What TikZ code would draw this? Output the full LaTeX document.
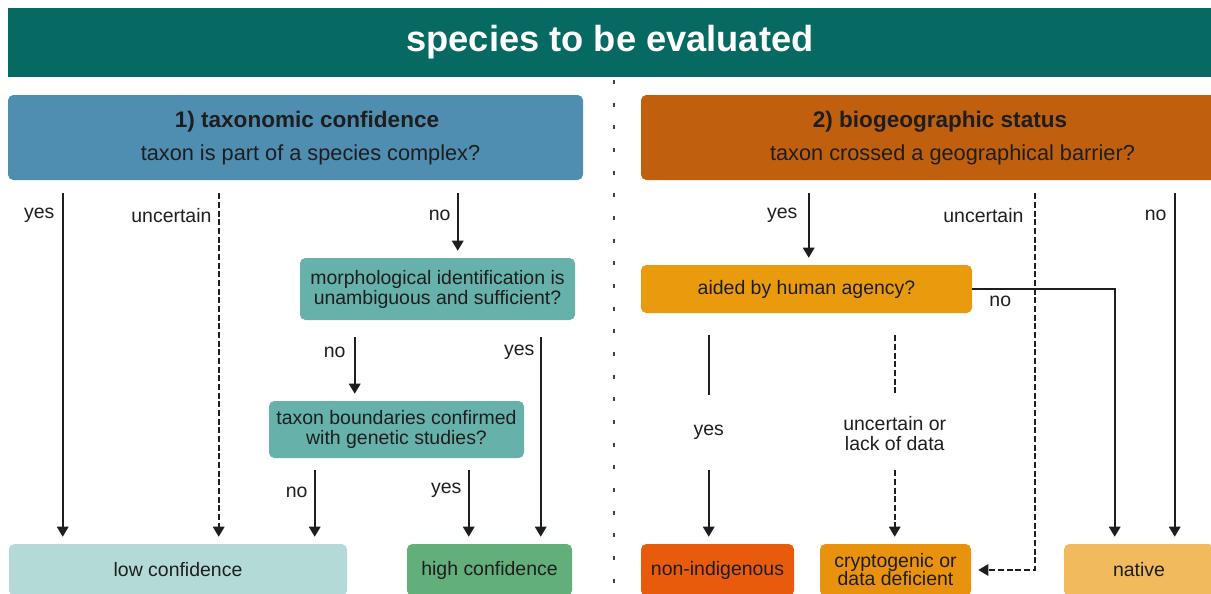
\documentclass[tikz,border=0pt]{standalone}
\usepackage{fontspec}
\setmainfont{Liberation Sans}
\usepackage{xcolor}
\usetikzlibrary{arrows.meta}
\usetikzlibrary{positioning}
\usetikzlibrary{calc}

\definecolor{barteal}{HTML}{066A62}
\definecolor{taxblue}{HTML}{4F8DB1}
\definecolor{biorust}{HTML}{C0600E}
\definecolor{qteal}{HTML}{66B2AA}
\definecolor{qorange}{HTML}{E99A0D}
\definecolor{lowcol}{HTML}{B3DAD7}
\definecolor{highcol}{HTML}{62AF7A}
\definecolor{nonindcol}{HTML}{E95B0C}
\definecolor{cryptcol}{HTML}{E9920D}
\definecolor{nativecol}{HTML}{F1BA5C}
\definecolor{ink}{HTML}{1E1E1E}

\def\u{0.75pt}

\tikzset{
  box/.style={rounded corners=4pt, inner sep=0pt, align=center, text=ink,
    font=\fontsize{14.6}{15}\selectfont},
  lbl/.style={inner sep=0pt, align=center, text=ink,
    font=\fontsize{14.6}{15}\selectfont},
  head/.style={inner sep=0pt, anchor=base, text=ink, font=\bfseries\fontsize{16.9}{18}\selectfont},
  quest/.style={inner sep=0pt, anchor=base, text=ink, font=\fontsize{16.3}{18}\selectfont},
  conn/.style={line width=1.5pt, draw=ink},
  arr/.style={conn, -{Triangle[width=8.5pt,length=7.5pt]}, shorten >=5.25pt},
  dsh/.style={dash pattern=on 4.5pt off 2pt},
  divider/.style={line width=1.5pt, draw=ink!85, dash pattern=on 3pt off 14pt},
}

\begin{document}
\begin{tikzpicture}[x=\u,y=-\u]
	\clip (0,0) rectangle (1211,593);
	% title bar
	\node[fill=barteal, inner sep=0pt, minimum width=1204*\u, minimum height=69*\u,
	      text=white, font=\bfseries\fontsize{27.2}{30}\selectfont] (title) at (610,42.5) {species to be evaluated};
	\draw[divider] (614,80) -- (614,593);

	% 1) taxonomic confidence
	\node[box, fill=taxblue, minimum width=575*\u, minimum height=85*\u] (tax) at (295.5,137.5) {};
	\node[head] (taxhead) at (307,127.5) {1) taxonomic confidence};
	\node[quest] (taxq) at (310.5,160) {taxon is part of a species complex?};
	\node[box, fill=qteal, minimum width=275*\u, minimum height=62*\u] (morph) at (437.5,289)
	  {morphological identification is\\unambiguous and sufficient?};
	\node[box, fill=qteal, minimum width=255*\u, minimum height=57*\u] (bound) at (396.5,429.5)
	  {taxon boundaries confirmed\\with genetic studies?};
	\node[box, fill=lowcol, minimum width=338*\u, minimum height=52*\u] (low) at (178,570) {low confidence};
	\node[box, fill=highcol, minimum width=165*\u, minimum height=52*\u] (high) at (489.5,570) {high confidence};

	\coordinate (tyes) at ([shift={(55,13)}]tax.south west);
	\coordinate (tunc) at ([shift={(211,13)}]tax.south west);
	\coordinate (tno) at ([shift={(450,13)}]tax.south west);
	\draw[arr] (tyes) -- (tyes |- low.north);
	\draw[arr,dsh] (tunc) -- (tunc |- low.north);
	\draw[arr] (tno) -- (tno |- morph.north);
	\node[lbl, anchor=east] at ([shift={(-8,22)}]tyes) {yes};
	\node[lbl, anchor=east] at ([shift={(-7,22)}]tunc) {uncertain};
	\node[lbl, anchor=east] at ([shift={(-7,22)}]tno) {no};

	\coordinate (mno) at ([shift={(55,17)}]morph.south west);
	\coordinate (myes) at ([shift={(241,17)}]morph.south west);
	\draw[arr] (mno) -- (mno |- bound.north);
	\draw[arr] (myes) -- (myes |- high.north);
	\node[lbl, anchor=east] at ([shift={(-9,15)}]mno) {no};
	\node[lbl, anchor=east] at ([shift={(-6,15)}]myes) {yes};

	\coordinate (bno) at ([shift={(46,12)}]bound.south west);
	\coordinate (byes) at ([shift={(200,12)}]bound.south west);
	\draw[arr] (bno) -- (bno |- low.north);
	\draw[arr] (byes) -- (byes |- high.north);
	\node[lbl, anchor=east] at ([shift={(-7,22)}]bno) {no};
	\node[lbl, anchor=east] at ([shift={(-7,20)}]byes) {yes};

	% 2) biogeographic status
	\node[box, fill=biorust, minimum width=708*\u, minimum height=85*\u] (bio) at (995,137.5) {};
	\node[head] (biohead) at (940,127.5) {2) biogeographic status};
	\node[quest] (bioq) at (952.5,160) {taxon crossed a geographical barrier?};
	\node[box, fill=qorange, minimum width=331*\u, minimum height=48*\u] (aided) at (806.5,289) {aided by human agency?};
	\node[box, fill=nonindcol, minimum width=153*\u, minimum height=52*\u] (nonind) at (717.5,570) {non-indigenous};
	\node[box, fill=cryptcol, minimum width=151*\u, minimum height=52*\u] (crypt) at (895.5,570) {cryptogenic or\\[-1.5pt]data deficient};
	\node[box, fill=nativecol, minimum width=150*\u, minimum height=52*\u] (native) at (1139,570) {native};

	\coordinate (ryes) at ([shift={(168,13)}]bio.south west);
	\coordinate (runc) at ([shift={(394,13)}]bio.south west);
	\coordinate (rno) at ([shift={(534,13)}]bio.south west);
	\draw[arr] (ryes) -- (ryes |- aided.north);
	\draw[arr,dsh] (runc) |- (crypt.east);
	\draw[arr] (rno) -- (rno |- native.north);
	\node[lbl, anchor=east] at ([shift={(-11,22)}]ryes) {yes};
	\node[lbl, anchor=east] at ([shift={(-11,22)}]runc) {uncertain};
	\node[lbl, anchor=east] at ([shift={(-8,22)}]rno) {no};

	\draw[arr] (aided.east) -| ([shift={(51,0)}]native.north west);
	\node[lbl] at ([shift={(28,12)}]aided.east) {no};

	\node[lbl] (hyes) at ([shift={(68,119)}]aided.south west) {yes};
	\node[lbl] (hunc) at ([shift={(254,120)}]aided.south west) {uncertain or\\lack of data};
	\draw[conn] ([shift={(0,22)}]aided.south -| hyes) -- ([shift={(0,-37)}]hyes.center);
	\draw[arr] ([shift={(0,38)}]hyes.center) -- (hyes |- nonind.north);
	\draw[conn,dsh] ([shift={(0,22)}]aided.south -| hunc) -- ([shift={(0,-38)}]hunc.center);
	\draw[arr,dsh] ([shift={(0,37)}]hunc.center) -- (hunc |- crypt.north);
\end{tikzpicture}
\end{document}
